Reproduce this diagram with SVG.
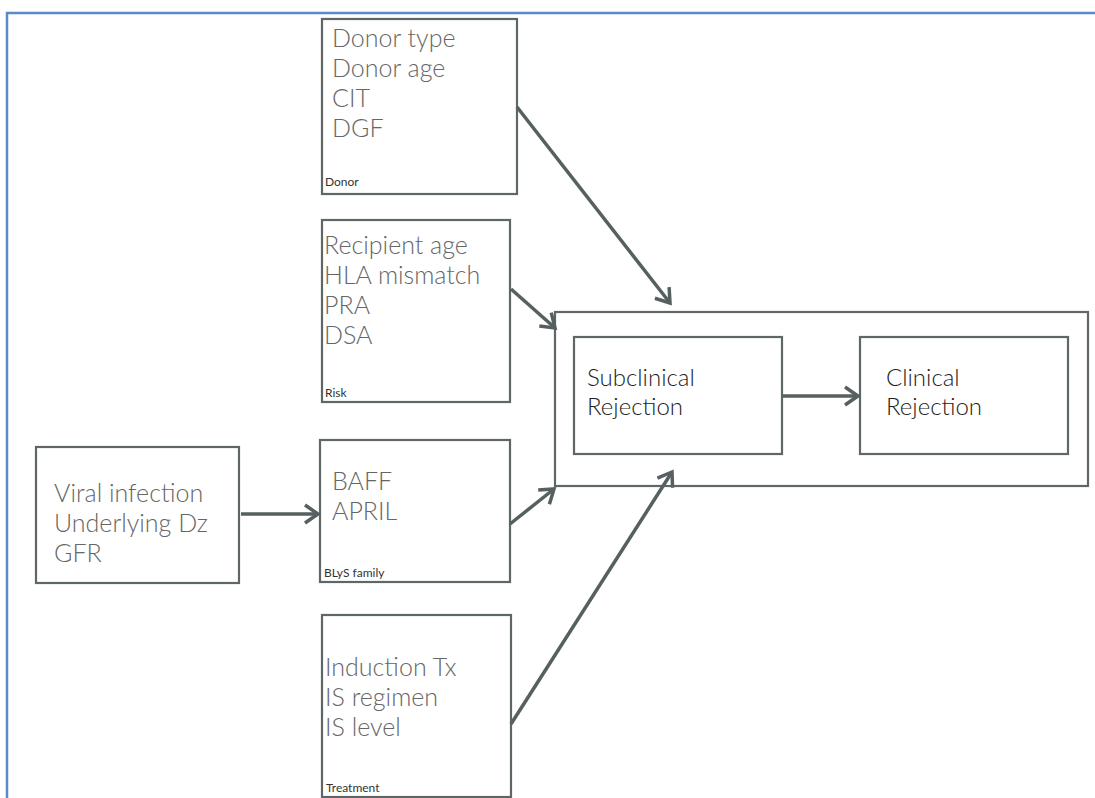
<svg xmlns="http://www.w3.org/2000/svg" width="1095" height="798" viewBox="0 0 1095 798">
<defs>
<style>
.box{fill:#fff;stroke:#5f6666;stroke-width:2.2}
.item{font-family:Lato,"Open Sans","Liberation Sans",sans-serif;font-weight:300;font-size:25px;fill:#666}
.lbl{font-family:Lato,"Open Sans","Liberation Sans",sans-serif;font-weight:400;font-size:12px;fill:#333}
.main{font-family:Lato,"Open Sans","Liberation Sans",sans-serif;font-weight:300;font-size:24px;fill:#222}
.conn{stroke:#566060;stroke-width:3.5;fill:none;marker-end:url(#arr)}
</style>
<marker id="arr" viewBox="0 0 22 22" markerWidth="22" markerHeight="22" refX="16" refY="11" orient="auto" markerUnits="userSpaceOnUse">
<path d="M3,2 L16,11 L3,20" fill="none" stroke="#566060" stroke-width="3.5" stroke-linejoin="miter"/>
</marker>
</defs>
<rect width="1095" height="798" fill="#fff"/>
<path d="M7,798 V13 H1095" fill="none" stroke="#5b8ac6" stroke-width="2.5"/>

<g id="donor">
<rect class="box" x="322" y="19" width="195" height="175"/>
<text class="item" x="332" y="47">Donor type</text>
<text class="item" x="332" y="77">Donor age</text>
<text class="item" x="332" y="107">CIT</text>
<text class="item" x="332" y="137">DGF</text>
<text class="lbl" x="325" y="186">Donor</text>
</g>

<g id="risk">
<rect class="box" x="322" y="220" width="188" height="182"/>
<text class="item" x="324" y="254">Recipient age</text>
<text class="item" x="324" y="284">HLA mismatch</text>
<text class="item" x="324" y="314">PRA</text>
<text class="item" x="324" y="344">DSA</text>
<text class="lbl" x="325" y="397">Risk</text>
</g>

<g id="viral">
<rect class="box" x="36" y="447" width="203" height="136"/>
<text class="item" x="54" y="502">Viral infection</text>
<text class="item" x="54" y="532">Underlying Dz</text>
<text class="item" x="54" y="562">GFR</text>
</g>

<g id="blys">
<rect class="box" x="320" y="440" width="190" height="142"/>
<text class="item" x="332" y="490">BAFF</text>
<text class="item" x="332" y="520">APRIL</text>
<text class="lbl" x="324" y="577">BLyS family</text>
</g>

<g id="treatment">
<rect class="box" x="322" y="615" width="189" height="182"/>
<text class="item" x="325" y="676">Induction Tx</text>
<text class="item" x="325" y="706">IS regimen</text>
<text class="item" x="325" y="736">IS level</text>
<text class="lbl" x="326" y="792">Treatment</text>
</g>

<g id="rejection">
<rect class="box" x="555" y="312" width="533" height="174"/>
</g>

<g id="subclinical">
<rect class="box" x="574" y="337" width="208" height="117"/>
<text class="main" x="587" y="386">Subclinical</text>
<text class="main" x="587" y="415">Rejection</text>
</g>

<g id="clinical">
<rect class="box" x="860" y="337" width="208" height="117"/>
<text class="main" x="886" y="386">Clinical</text>
<text class="main" x="886" y="415">Rejection</text>
</g>

<g id="connectors">
<line class="conn" x1="517" y1="107" x2="670" y2="303"/>
<line class="conn" x1="511" y1="289" x2="555" y2="328"/>
<line class="conn" x1="510" y1="524" x2="554" y2="489"/>
<line class="conn" x1="511" y1="724" x2="672" y2="472"/>
<line class="conn" x1="241" y1="514" x2="318" y2="514"/>
<line class="conn" x1="782" y1="396" x2="858" y2="396"/>
</g>
</svg>
